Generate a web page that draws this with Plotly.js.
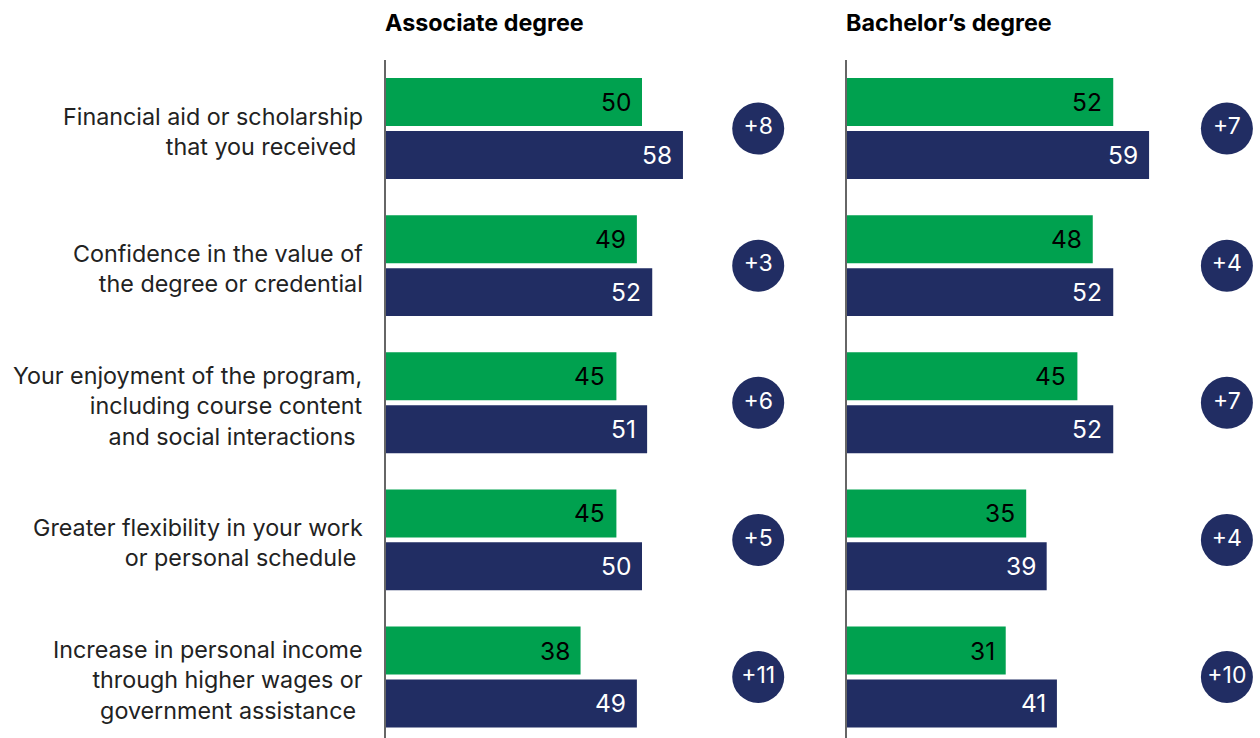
<!DOCTYPE html>
<html>
<head>
<meta charset="utf-8">
<script src="https://cdn.plot.ly/plotly-3.0.1.min.js"></script>
<style>html,body{margin:0;padding:0;background:#fff;}#chart{width:1260px;height:738px;}</style>
</head>
<body>
<div id="chart"></div>
<script>
const categories = [
  "Financial aid or scholarship<br>that you received\u00a0",
  "Confidence in the value of<br>the degree or credential",
  "Your enjoyment of the program,<br>including course content<br>and social interactions\u00a0",
  "Greater flexibility in your work<br>or personal schedule\u00a0",
  "Increase in personal income<br>through higher wages or<br>government assistance\u00a0"
];
const panelTitles = ["Associate degree", "Bachelor\u2019s degree"];
const assocGreen = [50, 49, 45, 45, 38];
const assocNavy  = [58, 52, 51, 50, 49];
const assocDiff  = ["+8", "+3", "+6", "+5", "+11"];
const bachGreen  = [52, 48, 45, 35, 31];
const bachNavy   = [59, 52, 52, 39, 41];
const bachDiff   = ["+7", "+4", "+7", "+4", "+10"];

const GREEN = "#00A14F", NAVY = "#212D63";
const FONT = "Inter, Roboto, 'Noto Sans', sans-serif";
const idx = categories.map((c, i) => i);
const pxPerUnit = 5.12;

function barTrace(vals, color, off, xa, ya) {
  return {type: "bar", orientation: "h", x: vals, y: idx, offset: off, width: 0.35,
    marker: {color: color, line: {width: 0}}, xaxis: xa, yaxis: ya, hoverinfo: "skip", showlegend: false};
}
function bubbleTrace(diffs, xpos, xa, ya) {
  return {type: "scatter", mode: "markers+text", x: idx.map(() => xpos), y: idx, text: diffs,
    textposition: "middle center", textfont: {family: FONT, size: 23, color: "#fff"},
    marker: {size: 52, color: NAVY, line: {width: 0}}, cliponaxis: false,
    xaxis: xa, yaxis: ya, hoverinfo: "skip", showlegend: false};
}

const data = [
  barTrace(assocGreen, GREEN, -0.368, "x", "y"),
  barTrace(assocNavy, NAVY, 0.018, "x", "y"),
  barTrace(bachGreen, GREEN, -0.368, "x2", "y2"),
  barTrace(bachNavy, NAVY, 0.018, "x2", "y2"),
  bubbleTrace(assocDiff, 72.7, "x", "y"),
  bubbleTrace(bachDiff, 74.2, "x2", "y2")
];

const annotations = [];
function valueLabels(vals, dy, color, xr, yr) {
  vals.forEach((v, i) => annotations.push({x: v, y: i + dy, xref: xr, yref: yr, text: String(v),
    showarrow: false, xanchor: "right", yanchor: "middle", xshift: -9,
    font: {family: FONT, size: 24.5, color: color}}));
}
valueLabels(assocGreen, -0.193, "#000", "x", "y");
valueLabels(assocNavy, 0.193, "#fff", "x", "y");
valueLabels(bachGreen, -0.193, "#000", "x2", "y2");
valueLabels(bachNavy, 0.193, "#fff", "x2", "y2");
categories.forEach((c, i) => annotations.push({x: 0, y: i, xref: "x domain", yref: "y", text: c,
  showarrow: false, xanchor: "right", yanchor: "middle", align: "right", xshift: -21, yshift: -3,
  font: {family: FONT, size: 23.3, color: "#222"}}));
[["x domain", 0], ["x2 domain", 1]].forEach(([xr, k]) => annotations.push({x: 0, y: 1.056, xref: xr, yref: "paper",
  text: "<b>" + panelTitles[k] + "</b>", showarrow: false, xanchor: "left", yanchor: "middle", xshift: -3,
  font: {family: FONT, size: 23.3, color: "#000"}}));

const W = 1260;
const layout = {
  width: 1260, height: 738,
  margin: {l: 0, r: 0, t: 60, b: 0, pad: 0},
  paper_bgcolor: "#fff", plot_bgcolor: "#fff",
  barmode: "overlay",
  xaxis: {domain: [386 / W, 800 / W], range: [0, (800 - 386) / pxPerUnit], showgrid: false, zeroline: false,
    showticklabels: false, ticks: "", fixedrange: true},
  xaxis2: {domain: [847 / W, 1], range: [0, (1260 - 847) / pxPerUnit], showgrid: false, zeroline: false,
    showticklabels: false, ticks: "", fixedrange: true},
  yaxis: {anchor: "x", range: [4.445, -0.5], showgrid: false, zeroline: false, showticklabels: false, ticks: "",
    showline: true, linecolor: "#666", linewidth: 2},
  yaxis2: {anchor: "x2", matches: "y", range: [4.445, -0.5], showgrid: false, zeroline: false, showticklabels: false, ticks: "",
    showline: true, linecolor: "#666", linewidth: 2},
  annotations: annotations,
  font: {family: FONT}
};
Plotly.newPlot("chart", data, layout, {displayModeBar: false, staticPlot: true});
</script>
</body>
</html>
